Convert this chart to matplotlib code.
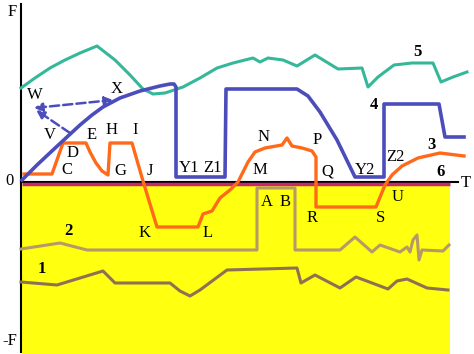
import matplotlib.pyplot as plt

# Kurven in Bildkoordinaten (x nach rechts, y nach unten)
curve5_x = [21, 35, 50, 65, 80, 97, 115, 130, 143, 153, 165, 183, 200, 217, 233, 253, 260, 268, 283, 297, 315, 338, 362, 368, 378, 394, 412, 433, 441, 453, 467]
curve5_y = [88, 78, 68, 60, 53, 46, 60, 75, 89, 94, 93, 87, 78, 68, 63, 58, 62, 58, 60, 66, 55, 69, 68, 87, 77, 65, 63, 63, 82, 77, 72]

curve4_x = [22, 37, 53, 67, 80, 92, 103, 120, 140, 160, 170, 174, 176, 176, 225, 226, 297, 308, 320, 337, 355, 384, 384, 439, 445, 464]
curve4_y = [180, 165, 150, 137, 125, 115, 107, 98, 91, 86, 84, 84, 87, 177, 177, 89, 89, 96, 112, 140, 177, 177, 104, 104, 137, 137]

curve3_x = [24, 52, 63, 86, 90, 96, 102, 108, 110, 132, 143, 157, 198, 203, 212, 220, 230, 238, 248, 255, 265, 282, 287, 292, 302, 312, 316, 316, 376, 385, 392, 402, 418, 440, 464]
curve3_y = [174, 174, 143, 143, 152, 163, 171, 175, 143, 143, 181, 227, 227, 214, 211, 198, 190, 182, 162, 152, 148, 145, 138, 146, 148, 151, 157, 207, 207, 185, 175, 166, 158, 153, 156]

curve2_x = [21, 60, 87, 257, 257, 295, 295, 340, 355, 372, 380, 400, 407, 410, 413, 417, 419, 422, 443, 449]
curve2_y = [249, 243, 250, 250, 188, 188, 250, 250, 237, 252, 245, 252, 247, 252, 240, 235, 260, 250, 251, 245]

curve1_x = [21, 57, 103, 115, 170, 180, 190, 200, 227, 297, 301, 315, 340, 356, 388, 397, 407, 427, 448]
curve1_y = [282, 285, 271, 283, 283, 291, 296, 290, 270, 268, 283, 275, 288, 277, 289, 281, 279, 288, 290]

line6_x = [22, 450]
line6_y = [184, 184]

# Beschriftungen
letters = ["W", "X", "V", "E", "H", "I", "D", "C", "G", "J", "Y1", "Z1", "N", "P", "M", "Q", "Y2", "Z2",
           "K", "L", "A", "B", "R", "S", "U"]
letter_x = [35, 117, 50, 92, 112, 135, 73, 67, 120, 150, 189, 213, 264, 317, 260, 327, 365, 395,
            145, 208, 267, 285, 312, 381, 398]
letter_y = [95, 89, 135, 135, 130, 130, 153, 170, 171, 171, 168, 168, 137, 140, 170, 171, 170, 157,
            233, 233, 202, 202, 218, 218, 197]

numbers = ["1", "2", "3", "4", "5", "6"]
number_x = [42, 68, 432, 374, 417, 441]
number_y = [269, 231, 145, 105, 52, 172]

fig = plt.figure(figsize=(4.74, 3.54), dpi=100)
ax = fig.add_axes([0, 0, 1, 1])
ax.set_xlim(0, 474)
ax.set_ylim(354, 0)
ax.axis("off")

# gelber Bereich unter der Zeitachse
ax.fill_between([22, 450], 186, 354, color="#ffff10", lw=0)

# Achsen
ax.plot([21, 21], [4, 352], color="black", lw=1.5)
ax.plot([21, 458], [182, 182], color="black", lw=1.5)
ax.plot(line6_x, line6_y, color="#c8286e", lw=2.5, solid_capstyle="butt")

ax.plot(curve1_x, curve1_y, color="#8d7152", lw=2.2)
ax.plot(curve2_x, curve2_y, color="#b59a68", lw=2.2)
ax.plot(curve5_x, curve5_y, color="#35b89a", lw=2.2)
ax.plot(curve3_x, curve3_y, color="#ff6a1a", lw=2.4)
ax.plot(curve4_x, curve4_y, color="#4b4dbb", lw=2.6)

# gestrichelte Pfeile
ax.annotate("", xy=(113, 100), xytext=(34, 108),
            arrowprops=dict(arrowstyle="<|-|>", ls="--", lw=1.8, color="#4b4dbb", mutation_scale=12,
                            shrinkA=0, shrinkB=0))
ax.annotate("", xy=(36, 110), xytext=(70, 133),
            arrowprops=dict(arrowstyle="-|>", ls="--", lw=1.8, color="#4b4dbb", mutation_scale=12,
                            shrinkA=0, shrinkB=0))

serif = ["Liberation Serif", "DejaVu Serif"]
for s, x, y in zip(letters, letter_x, letter_y):
    ax.text(x, y, s, fontsize=12, family=serif, ha="center", va="center")
for s, x, y in zip(numbers, number_x, number_y):
    ax.text(x, y, s, fontsize=12, family=serif, weight="bold", ha="center", va="center")

ax.text(12, 12, "F", fontsize=12, family=serif, ha="center", va="center")
ax.text(10, 181, "0", fontsize=12, family=serif, ha="center", va="center")
ax.text(10, 341, "-F", fontsize=12, family=serif, ha="center", va="center")
ax.text(466, 183, "T", fontsize=12, family=serif, ha="center", va="center")

fig.savefig("out.png", dpi=100)
